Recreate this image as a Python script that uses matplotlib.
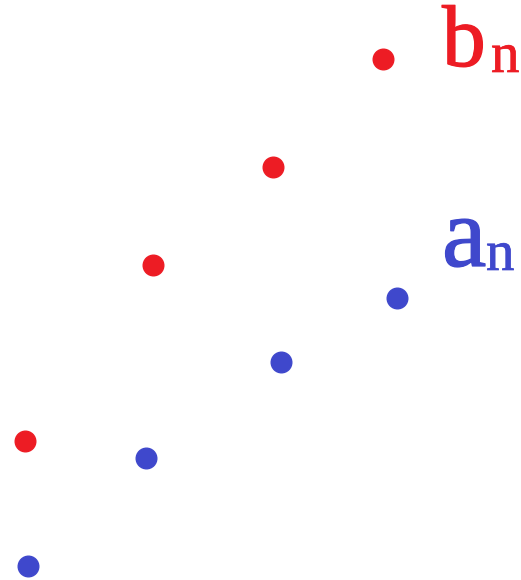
import matplotlib.pyplot as plt
import matplotlib.patheffects as pe

# point positions (x, y in pixel-like units, y grows downward)
b_x = [25, 153, 273, 383]
b_y = [441, 265, 167, 59]
a_x = [28, 146, 281, 397]
a_y = [566, 458, 362, 298]

red = '#ED1C24'
blue = '#3F48CC'

fig = plt.figure(figsize=(5.21, 5.80), dpi=100)
ax = fig.add_axes([0, 0, 1, 1])
ax.set_xlim(0, 521)
ax.set_ylim(580, 0)
ax.axis('off')

ax.scatter(b_x, b_y, s=220, color=red, zorder=3)
ax.scatter(a_x, a_y, s=220, color=blue, zorder=3)

serif = 'Liberation Serif'


def label(x, y, s, color, size, lw):
    t = ax.text(x, y, s, color=color, fontsize=size, family=serif, va='baseline')
    t.set_path_effects([pe.withStroke(linewidth=lw, foreground=color)])


label(442, 66, 'b', red, 63, 0.9)
label(491, 72, 'n', red, 41, 0.5)
label(442, 266, 'a', blue, 72, 0.9)
label(486, 270, 'n', blue, 41, 0.5)

fig.savefig('out.png', dpi=100)
